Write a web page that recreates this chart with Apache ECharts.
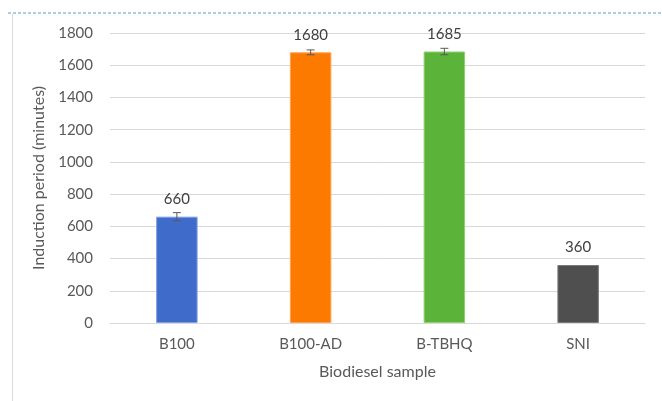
<!DOCTYPE html>
<html>
<head>
<meta charset="utf-8">
<script src="https://cdn.jsdelivr.net/npm/echarts@6/dist/echarts.min.js"></script>
<style>html,body{margin:0;padding:0;background:#fff}#c{width:662px;height:401px}</style>
</head>
<body>
<div id="c"></div>
<script>
var categories = ['B100', 'B100-AD', 'B-TBHQ', 'SNI'];
var values = [660, 1680, 1685, 360];
var errors = [25, 15, 20, 0];
var colors = ['#3f6bcb', '#fd7a00', '#5bb33a', '#4f4f4f'];
var borderColors = ['#7f9fe0', '#ffa04d', '#8fd06f', '#7a7a7a'];
var yTicks = [0, 200, 400, 600, 800, 1000, 1200, 1400, 1600, 1800];

var chart = echarts.init(document.getElementById('c'));
var font = 'Lato, "Open Sans", sans-serif';
chart.setOption({
  animation: false,
  textStyle: { fontFamily: font },
  graphic: [
    { type: 'line', shape: { x1: 8, y1: 13, x2: 662, y2: 13 }, style: { stroke: '#5b9bd5', lineWidth: 1, lineDash: [3, 2] } },
    { type: 'line', shape: { x1: 12.5, y1: 14, x2: 12.5, y2: 401 }, style: { stroke: '#d9d9d9', lineWidth: 1 } }
  ],
  grid: { left: 110, right: 17, top: 33, bottom: 78 },
  xAxis: {
    type: 'category',
    data: categories,
    name: 'Biodiesel sample',
    nameLocation: 'middle',
    nameGap: 41,
    nameTextStyle: { fontSize: 16, color: '#595959', fontFamily: font },
    axisLine: { lineStyle: { color: '#d9d9d9' } },
    axisTick: { show: false },
    axisLabel: { fontSize: 15, color: '#595959', margin: 14, fontFamily: font }
  },
  yAxis: {
    type: 'value',
    min: yTicks[0],
    max: yTicks[yTicks.length - 1],
    interval: 200,
    name: 'Induction period (minutes)',
    nameLocation: 'middle',
    nameGap: 56,
    nameTextStyle: { fontSize: 16, color: '#595959', fontFamily: font },
    axisLine: { show: false },
    axisTick: { show: false },
    axisLabel: { fontSize: 15, color: '#595959', margin: 17, fontFamily: font, formatter: function (v) { return String(v); } },
    splitLine: { lineStyle: { color: '#d9d9d9', width: 1 } }
  },
  series: [
    {
      type: 'bar',
      barWidth: '31%',
      data: values.map(function (v, i) {
        return { value: v, itemStyle: { color: colors[i], borderColor: borderColors[i], borderWidth: 1 } };
      }),
      label: { show: true, position: 'top', distance: 10, fontSize: 15, color: '#404040', fontFamily: font }
    },
    {
      type: 'custom',
      z: 10,
      data: values.map(function (v, i) { return [i, v - errors[i], v + errors[i]]; }),
      renderItem: function (params, api) {
        var lo = api.value(1), hi = api.value(2);
        if (hi - lo <= 0) return null;
        var p1 = api.coord([api.value(0), lo]);
        var p2 = api.coord([api.value(0), hi]);
        var w = 4;
        var st = { stroke: '#595959', lineWidth: 1 };
        return {
          type: 'group',
          children: [
            { type: 'line', shape: { x1: p1[0], y1: p1[1], x2: p2[0], y2: p2[1] }, style: st },
            { type: 'line', shape: { x1: p1[0] - w, y1: p1[1], x2: p1[0] + w, y2: p1[1] }, style: st },
            { type: 'line', shape: { x1: p2[0] - w, y1: p2[1], x2: p2[0] + w, y2: p2[1] }, style: st }
          ]
        };
      }
    }
  ]
});
</script>
</body>
</html>
